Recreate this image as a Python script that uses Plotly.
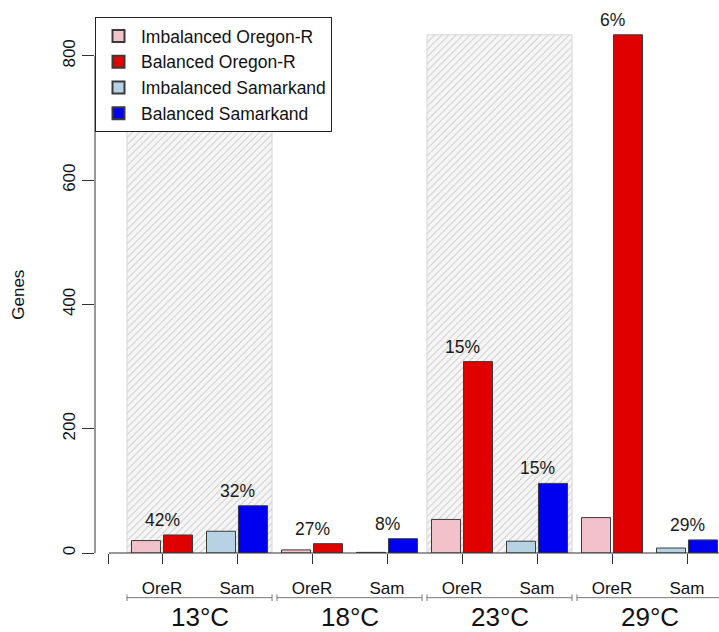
import plotly.graph_objects as go

# Differentially expressed gene counts per temperature and strain
temps = ["13°C", "18°C", "23°C", "29°C"]
strains = ["OreR", "Sam"]
imbalanced_orer = [20, 5, 54, 57]
balanced_orer = [29, 15, 308, 834]
imbalanced_sam = [35, 1, 19, 8]
balanced_sam = [76, 23, 112, 21]
pct_orer = ["42%", "27%", "15%", "6%"]
pct_sam = ["32%", "8%", "15%", "29%"]
shaded_temps = ["13°C", "23°C"]

series_names = ["Imbalanced Oregon-R", "Balanced Oregon-R",
                "Imbalanced Samarkand", "Balanced Samarkand"]
series_colors = ["#F2C2CB", "#E00000", "#B7D3E3", "#0000F0"]

FONT = "Liberation Sans, Arial, Helvetica, sans-serif"
BAR_W = 0.387
BAR_OFF = 0.213
GROUP_HALF = 0.967

# pair positions: one slot per (temperature, strain)
n_t = len(temps)
orer_x = [2 * i for i in range(n_t)]
sam_x = [2 * i + 1 for i in range(n_t)]
group_x = [2 * i + 0.5 for i in range(n_t)]

fig = go.Figure()

# hatched background blocks behind selected temperatures
ymax = max(balanced_orer + balanced_sam + imbalanced_orer + imbalanced_sam)
shade_x = [group_x[temps.index(t)] for t in shaded_temps]
fig.add_trace(go.Bar(
    x=shade_x, y=[ymax] * len(shade_x), width=2 * GROUP_HALF,
    marker=dict(color="#f5f5f5", line=dict(color="#d6d6d6", width=1),
                pattern=dict(shape="/", fgcolor="#cdcdcd", bgcolor="#f6f6f6",
                             size=5, solidity=0.2, fillmode="replace")),
    showlegend=False, hoverinfo="skip", cliponaxis=False,
))

series = [
    ([x - BAR_OFF for x in orer_x], imbalanced_orer),
    ([x + BAR_OFF for x in orer_x], balanced_orer),
    ([x - BAR_OFF for x in sam_x], imbalanced_sam),
    ([x + BAR_OFF for x in sam_x], balanced_sam),
]
for (xs, ys), name, col in zip(series, series_names, series_colors):
    fig.add_trace(go.Bar(
        x=xs, y=ys, width=BAR_W, name=name,
        marker=dict(color=col, line=dict(color="#3a3a3a", width=1)),
        cliponaxis=False,
    ))

# percentage labels above each pair
annotations = []
for i in range(n_t):
    for px, top, txt in [(orer_x[i], max(imbalanced_orer[i], balanced_orer[i]), pct_orer[i]),
                         (sam_x[i], max(imbalanced_sam[i], balanced_sam[i]), pct_sam[i])]:
        annotations.append(dict(x=px, y=top, xref="x", yref="y", text=txt,
                                showarrow=False, yanchor="bottom", yshift=3,
                                font=dict(size=17.5, color="#1a1a1a", family=FONT)))

# temperature labels and brackets under the strain labels
shapes = []
BR_Y = -0.0808
for gx, t in zip(group_x, temps):
    annotations.append(dict(x=gx, y=-0.1151, xref="x", yref="paper", text=t,
                            showarrow=False, yanchor="middle",
                            font=dict(size=26, color="#111111", family=FONT)))
    shapes.append(dict(type="line", xref="x", yref="paper",
                       x0=gx - GROUP_HALF, x1=gx + GROUP_HALF, y0=BR_Y, y1=BR_Y,
                       line=dict(color="#777777", width=1)))
    for ex in (gx - GROUP_HALF, gx + GROUP_HALF):
        shapes.append(dict(type="line", xref="x", yref="paper",
                           x0=ex, x1=ex, y0=BR_Y - 0.006, y1=BR_Y + 0.006,
                           line=dict(color="#777777", width=1)))

# R-style axis lines: y from 0 to 800, x starting just right of the y axis
shapes.append(dict(type="line", xref="paper", yref="y", x0=0, x1=0, y0=0, y1=800,
                   line=dict(color="#333333", width=1)))
X_START = -0.707
shapes.append(dict(type="line", xref="x", yref="paper", x0=X_START, x1=8.0, y0=0, y1=0,
                   line=dict(color="#333333", width=1)))

# y-axis title
annotations.append(dict(x=-76 / 624, y=0.467, xref="paper", yref="paper", text="Genes",
                        showarrow=False, textangle=-90, xanchor="center", yanchor="middle",
                        font=dict(size=17, color="#111111", family=FONT)))

tick_positions = [X_START] + [p for i in range(n_t) for p in (orer_x[i], sam_x[i])]
tick_text = [""] + [s for _ in range(n_t) for s in strains]

fig.update_layout(
    width=719, height=632,
    margin=dict(l=95, r=0, t=0, b=79, pad=0),
    paper_bgcolor="white", plot_bgcolor="white",
    barmode="overlay",
    font=dict(family=FONT, color="#111111"),
    showlegend=True,
    legend=dict(x=0, y=1 - 17 / 553, xref="paper", yref="paper",
                xanchor="left", yanchor="top",
                bgcolor="white", bordercolor="#222222", borderwidth=1,
                font=dict(size=17.5, family=FONT, color="#111111"),
                tracegroupgap=0, itemsizing="constant", itemwidth=35),
    xaxis=dict(range=[-67 / 75, 557 / 75], showgrid=False, zeroline=False,
               showline=False, ticks="outside", ticklen=10, tickcolor="#333333",
               tickvals=tick_positions, ticktext=tick_text,
               tickfont=dict(size=17, family=FONT, color="#111111"),
               ticklabelstandoff=10),
    yaxis=dict(range=[0, 890], showgrid=False, zeroline=False, showline=False,
               ticks="outside", ticklen=12, tickcolor="#333333",
               tickvals=[0, 200, 400, 600, 800], tickangle=-90,
               tickfont=dict(size=17, family=FONT, color="#111111")),
    annotations=annotations,
    shapes=shapes,
)

fig.write_html("out.html")
